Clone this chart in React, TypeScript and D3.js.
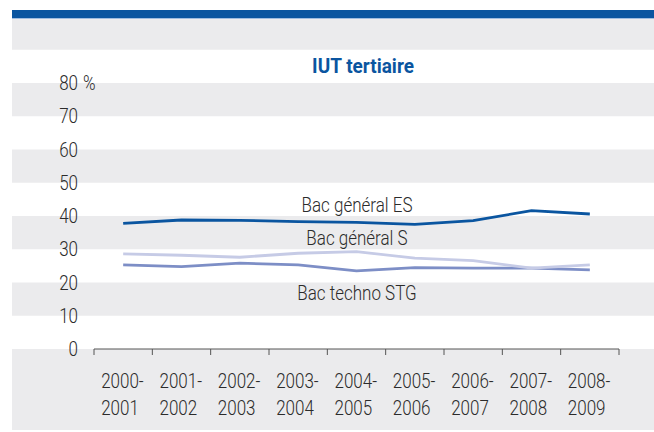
import React from 'react';
import * as d3 from 'd3';

const categories = ['2000-2001', '2001-2002', '2002-2003', '2003-2004', '2004-2005', '2005-2006', '2006-2007', '2007-2008', '2008-2009'];
const bacES = [37.8, 38.8, 38.7, 38.3, 38.1, 37.5, 38.6, 41.6, 40.6];
const bacS = [28.6, 28.2, 27.6, 28.8, 29.3, 27.3, 26.6, 24.3, 25.3];
const bacSTG = [25.3, 24.8, 25.8, 25.3, 23.5, 24.5, 24.3, 24.3, 23.8];
const yTicks = [0, 10, 20, 30, 40, 50, 60, 70, 80];

const FONT = "Roboto, 'DejaVu Sans Condensed', sans-serif";
const SX = 0.85; // squeeze text to mimic a condensed face

// text drawn at (x, y) and squeezed horizontally
const Label = ({ x, y, anchor = 'start', size = 20, weight = 300, fill = '#2b2b2b', sx = SX, children }: any) => (
  <text transform={`translate(${x},${y}) scale(${sx},1)`} textAnchor={anchor} fontSize={size}
    fontWeight={weight} fill={fill} dy="0.35em">{children}</text>
);

const App = () => {
  const width = 654;
  const height = 432;

  // scales
  const x = d3.scaleBand<string>().domain(categories).range([94, 619]);
  const y = d3.scaleLinear().domain([0, 80]).range([349, 83]);
  const cx = (c: string) => (x(c) as number) + x.bandwidth() / 2;

  const line = d3.line<number>()
    .x((d, i) => cx(categories[i]))
    .y(d => y(d));

  const series = [
    { name: 'Bac techno STG', values: bacSTG, color: '#7d8ec6' },
    { name: 'Bac général S', values: bacS, color: '#c6cbe6' },
    { name: 'Bac général ES', values: bacES, color: '#0a55a0' },
  ];

  // white stripes every other 10 units
  const stripes = [[80, 90], [60, 70], [40, 50], [20, 30], [0, 10]];
  const boundaries = [...categories.map(c => x(c) as number), x.range()[1]];

  return (
    <svg width={width} height={height} style={{ position: 'absolute', left: 0, top: 0 }} fontFamily={FONT}>
      <rect x={0} y={0} width={width} height={height} fill="#fff" />
      <rect x={12} y={10} width={width - 12} height={8} fill="#0a55a0" />
      <rect x={12} y={18} width={width - 12} height={1} fill="#9fbde0" />
      <rect x={12} y={19} width={width - 12} height={411} fill="#ebebed" />
      {stripes.map(([a, b]) => (
        <rect key={a} x={12} y={y(b)} width={width - 12} height={y(a) - y(b)} fill="#fff" />
      ))}

      <Label x={363} y={66} anchor="middle" size={20} weight="bold" fill="#0a55a0" sx={0.95}>IUT tertiaire</Label>

      {/* y axis labels */}
      {yTicks.map(t => (
        <Label key={t} x={78} y={y(t)} anchor="end">{t}</Label>
      ))}
      <Label x={83} y={y(80)}>%</Label>

      {/* x axis */}
      <line x1={94} x2={619} y1={y(0)} y2={y(0)} stroke="#555" strokeWidth={1} />
      {boundaries.map((b, i) => (
        <line key={i} x1={b} x2={b} y1={y(0)} y2={y(0) + 6} stroke="#555" strokeWidth={1} />
      ))}
      {categories.map(c => {
        const [a, b] = c.split('-');
        return (
          <g key={c}>
            <Label x={cx(c) - 22} y={381}>{a + '-'}</Label>
            <Label x={cx(c) - 22} y={408}>{b}</Label>
          </g>
        );
      })}

      {series.map(s => (
        <path key={s.name} d={line(s.values) || ''} fill="none" stroke={s.color} strokeWidth={2.8} />
      ))}

      <Label x={357} y={205} anchor="middle">Bac général ES</Label>
      <Label x={357} y={238} anchor="middle">Bac général S</Label>
      <Label x={357} y={293} anchor="middle">Bac techno STG</Label>
    </svg>
  );
};

export default App;
